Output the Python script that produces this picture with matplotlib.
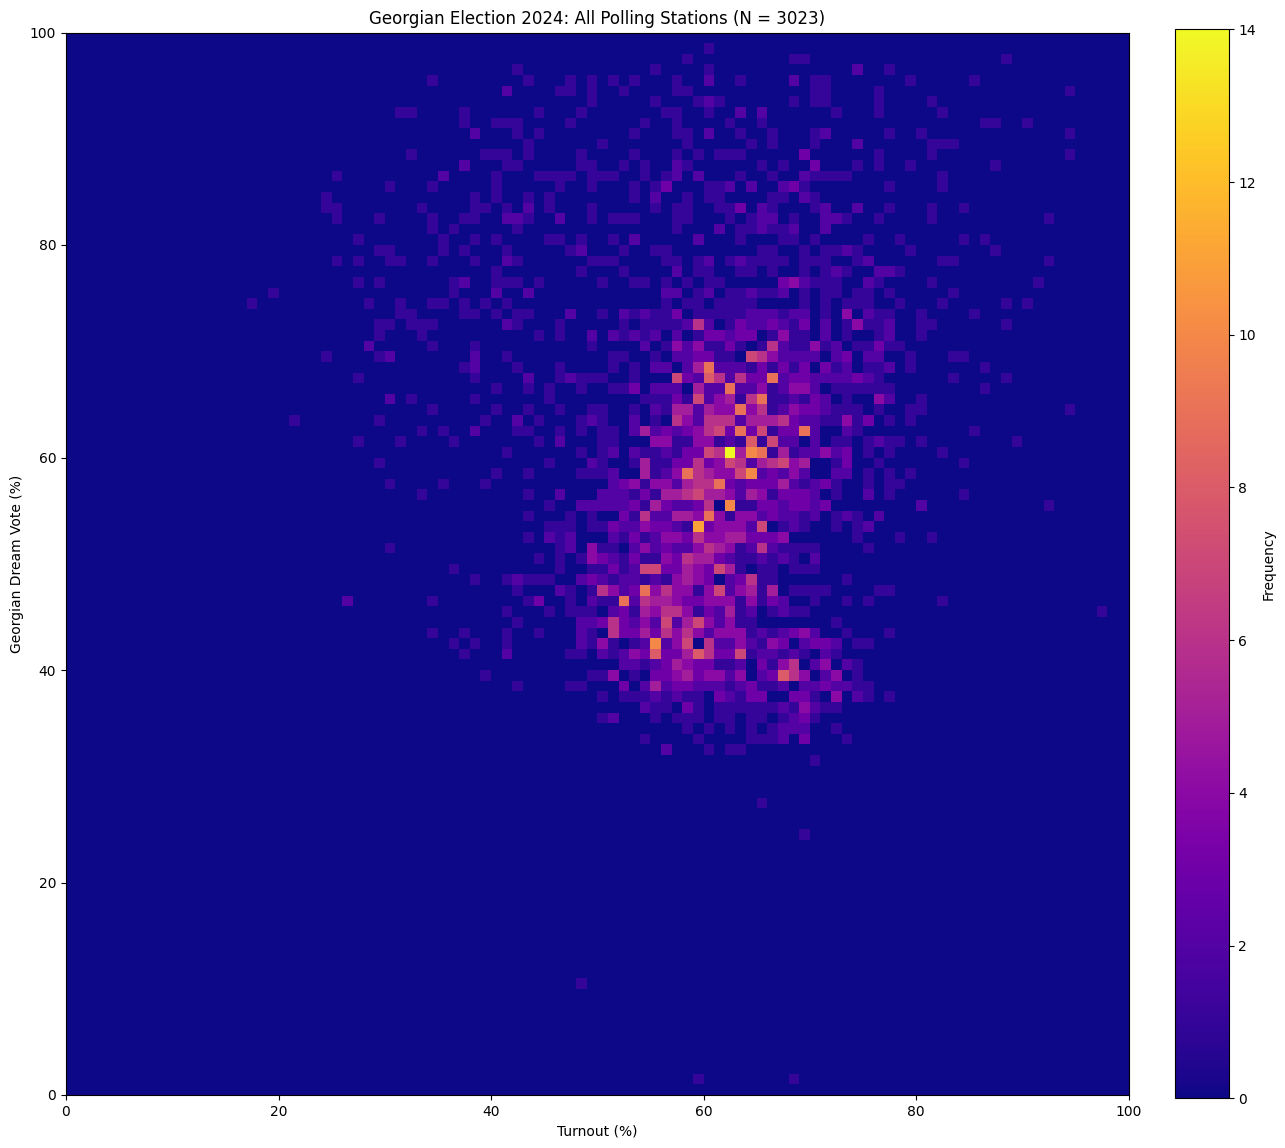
import numpy as np
import matplotlib
matplotlib.use("Agg")
import matplotlib.pyplot as plt

# stations per bin, {vote bin: {turnout bin: count}}
votes_90s = {
    98: {60:1},
    97: {58:1, 68:1, 69:1, 88:1},
    96: {42:1, 55:1, 60:1, 74:2, 77:1},
    95: {34:1, 43:1, 47:1, 49:1, 51:1, 53:1, 57:1, 60:2, 63:1, 68:2, 70:1, 71:1, 79:1, 85:1},
    94: {41:2, 46:1, 47:1, 49:1, 52:1, 57:1, 58:1, 70:1, 71:1, 76:1, 94:1},
    93: {49:1, 55:1, 59:1, 60:2, 61:1, 68:1, 70:1, 71:1, 76:1, 81:1},
    92: {31:1, 32:1, 37:1, 44:1, 48:1, 56:1, 57:1, 60:1, 63:2, 65:2, 72:1, 76:1, 82:1},
    91: {37:1, 40:1, 41:1, 42:1, 47:1, 54:1, 57:1, 62:1, 65:1, 86:1, 87:1, 90:1},
    90: {38:2, 42:1, 44:1, 53:1, 57:1, 58:1, 60:2, 63:1, 66:1, 70:1, 71:2, 77:1, 80:1, 94:1},
}
votes_80s = {
    89: {43:1, 50:1, 58:1, 64:1, 66:1, 70:1, 74:2, 81:1, 82:1, 83:1},
    88: {32:1, 39:1, 40:1, 41:1, 43:1, 48:1, 53:1, 57:1, 59:1, 61:1, 62:1, 63:1, 69:3, 76:1, 81:1, 94:1},
    87: {37:2, 41:1, 42:1, 48:1, 49:1, 52:1, 54:1, 57:2, 58:1, 65:1, 67:1, 70:3, 74:1, 76:1, 79:1, 87:1},
    86: {25:1, 35:2, 40:1, 44:1, 45:1, 46:1, 47:1, 49:1, 50:1, 51:1, 54:1, 56:1, 57:2, 59:2, 63:1, 66:1, 69:2, 70:1, 71:1, 72:1, 73:1, 82:1},
    85: {30:1, 34:1, 40:1, 46:1, 49:1, 53:1, 55:1, 56:3, 60:1, 61:1, 62:2, 64:2, 67:2, 68:3, 69:1, 77:1, 82:1},
    84: {24:1, 38:1, 40:1, 43:1, 45:1, 53:1, 55:2, 58:1, 60:1, 61:1, 66:1, 67:1, 69:2, 70:1},
    83: {24:1, 25:1, 33:1, 38:1, 39:1, 41:1, 43:2, 45:1, 49:1, 55:1, 57:1, 58:1, 61:1, 62:1, 63:3, 65:2, 66:1, 70:1, 71:2, 74:2, 77:1, 81:1, 84:1},
    82: {25:1, 29:1, 34:1, 37:1, 38:1, 41:2, 42:2, 43:1, 46:2, 49:1, 51:1, 52:1, 53:1, 57:1, 58:1, 62:1, 64:1, 65:2, 66:2, 68:1, 71:2, 72:2, 73:1, 76:1, 81:1, 92:1},
    81: {34:1, 36:1, 42:1, 57:1, 61:2, 63:1, 64:1, 65:2, 66:1, 67:1, 68:2, 71:2},
    80: {27:1, 35:1, 38:1, 40:1, 45:1, 46:1, 48:1, 51:1, 53:2, 59:2, 63:1, 67:1, 68:1, 70:1, 75:1, 78:1, 84:1, 86:1},
}
votes_70s = {
    79: {29:1, 30:1, 35:1, 37:1, 41:1, 47:1, 48:2, 52:1, 55:1, 56:1, 65:1, 66:1, 69:1, 71:1, 72:1, 73:2, 74:1, 79:1, 87:1},
    78: {25:1, 27:1, 30:1, 31:1, 34:1, 38:1, 41:2, 42:1, 49:1, 50:1, 51:1, 56:1, 57:1, 59:1, 60:2, 62:1, 63:2, 64:1, 65:1, 66:1, 67:1, 69:1, 70:1, 71:1, 74:1, 75:2, 82:1, 83:1, 92:1},
    77: {40:1, 48:1, 52:1, 57:2, 59:1, 60:1, 63:1, 64:1, 66:1, 69:1, 71:1, 72:2, 73:1, 76:2, 77:2, 78:1},
    76: {27:1, 29:1, 36:1, 37:2, 40:1, 41:1, 42:1, 44:1, 50:1, 53:1, 54:1, 56:1, 58:1, 60:1, 61:1, 67:3, 68:4, 69:2, 70:1, 71:1, 72:1, 75:2, 76:1, 81:1, 91:1},
    75: {19:1, 36:1, 40:2, 43:2, 56:2, 57:2, 59:1, 60:2, 62:1, 63:1, 64:2, 65:1, 66:1, 67:2, 69:1, 71:1, 72:1, 74:1, 75:1, 77:1, 83:1},
    74: {17:1, 28:1, 31:1, 34:1, 35:1, 37:1, 39:1, 41:1, 56:1, 58:1, 59:1, 61:1, 62:1, 63:1, 64:1, 69:1, 71:1, 73:1, 74:1, 75:1, 78:1, 82:1, 88:1, 90:1},
    73: {31:1, 32:1, 37:1, 38:1, 40:1, 42:1, 43:1, 47:2, 50:1, 52:2, 53:1, 54:2, 55:1, 56:1, 57:3, 59:1, 60:1, 61:1, 62:1, 63:1, 64:2, 65:2, 66:2, 67:1, 68:2, 69:2, 71:1, 73:4, 75:2, 76:1, 77:1, 80:1, 85:1},
    72: {29:1, 30:1, 32:1, 33:1, 34:1, 41:2, 42:1, 46:1, 52:1, 54:1, 55:1, 56:1, 57:1, 58:2, 59:6, 60:2, 62:1, 63:3, 64:2, 65:2, 66:3, 67:2, 68:1, 69:3, 71:2, 73:1, 74:4, 75:1, 76:1, 77:2, 80:1, 81:1, 88:1},
    71: {29:1, 33:1, 44:1, 46:1, 49:2, 51:2, 52:1, 53:2, 54:1, 55:2, 57:2, 59:1, 60:3, 61:3, 62:2, 63:3, 64:3, 66:1, 67:4, 68:1, 69:1, 71:2, 73:1, 76:1, 77:2, 80:1},
    70: {28:2, 34:1, 38:1, 49:1, 54:2, 56:1, 57:4, 58:2, 59:4, 60:1, 61:1, 62:3, 63:1, 65:1, 66:6, 67:2, 68:1, 69:1, 70:4, 71:1, 72:2, 74:1, 75:1, 76:3, 77:1, 78:1},
}
votes_60s = {
    69: {24:1, 29:1, 30:2, 38:2, 41:1, 51:1, 52:1, 55:1, 57:2, 58:2, 59:3, 60:3, 61:1, 62:1, 64:7, 65:6, 66:4, 67:2, 68:2, 69:2, 70:2, 72:2, 73:3, 75:2, 76:2, 79:1, 83:1, 84:1},
    68: {37:1, 38:2, 42:1, 46:1, 51:1, 53:1, 55:2, 56:2, 58:2, 59:5, 60:9, 61:2, 62:2, 63:2, 64:1, 65:3, 66:1, 67:3, 68:1, 69:3, 71:3, 72:1, 73:2, 75:1, 76:1, 77:2, 79:1, 86:1},
    67: {27:1, 38:1, 43:2, 46:1, 47:2, 48:1, 49:1, 50:1, 53:1, 57:7, 58:3, 59:2, 60:8, 61:6, 62:2, 63:6, 64:3, 65:3, 66:9, 67:2, 68:3, 69:3, 70:2, 71:2, 72:2, 73:2, 74:3, 75:2, 76:1, 83:1, 88:1},
    66: {40:1, 43:1, 45:1, 48:1, 51:1, 52:1, 53:3, 55:2, 56:2, 57:2, 59:5, 60:2, 61:2, 62:9, 63:2, 64:2, 65:4, 66:1, 67:2, 68:4, 69:4, 70:2, 72:1, 73:1, 74:1, 75:1, 76:1, 77:1, 86:1},
    65: {30:2, 32:1, 38:1, 45:1, 54:1, 55:1, 56:1, 57:3, 58:1, 59:7, 60:2, 61:4, 62:5, 63:1, 64:6, 65:9, 66:1, 67:1, 68:2, 69:1, 70:3, 71:2, 73:1, 76:4, 77:2, 80:1},
    64: {34:1, 40:1, 43:1, 46:1, 49:1, 50:1, 53:1, 55:2, 56:1, 57:5, 58:5, 59:2, 60:5, 61:4, 62:4, 63:9, 64:4, 65:6, 66:1, 67:2, 68:4, 69:3, 70:3, 71:2, 72:1, 73:1, 74:1, 76:1, 79:1, 80:1, 94:1},
    63: {21:1, 29:1, 39:1, 42:2, 44:1, 48:1, 49:2, 50:1, 53:2, 55:1, 57:6, 58:4, 59:2, 60:6, 61:6, 62:6, 63:2, 64:5, 65:5, 66:5, 67:6, 68:3, 69:2, 70:2, 71:1, 72:1, 73:4, 74:1, 75:3, 77:1, 79:1},
    62: {33:1, 35:1, 38:2, 42:1, 43:1, 46:1, 48:1, 50:1, 51:1, 53:2, 54:5, 55:2, 56:3, 57:2, 58:3, 59:4, 60:6, 61:7, 62:3, 63:9, 64:3, 65:7, 66:1, 67:3, 68:3, 69:9, 70:2, 73:2, 74:1, 85:1},
    61: {27:1, 31:1, 36:1, 44:1, 46:2, 50:1, 51:1, 55:4, 56:4, 57:1, 58:1, 59:4, 60:4, 61:1, 62:2, 63:1, 64:8, 65:1, 66:7, 67:2, 68:2, 70:2, 72:1, 73:1, 75:1, 76:2, 77:1, 78:1, 80:1, 89:1},
    60: {41:1, 48:1, 50:1, 51:2, 53:2, 54:1, 55:1, 56:2, 57:1, 58:3, 59:3, 60:7, 61:6, 62:14, 63:5, 64:10, 65:9, 66:1, 67:5, 68:1, 69:2, 70:2, 71:4, 72:2, 73:3, 75:1, 77:1, 82:1},
}
votes_50s = {
    59: {29:1, 45:1, 49:2, 50:1, 53:1, 54:5, 55:1, 56:1, 57:3, 58:3, 59:6, 60:3, 61:4, 62:7, 63:6, 64:2, 65:5, 66:6, 67:7, 68:4, 69:5, 72:1, 73:3, 76:1, 84:1},
    58: {40:1, 43:1, 48:1, 49:1, 50:1, 51:2, 54:5, 55:1, 56:2, 57:4, 58:9, 59:6, 60:5, 61:4, 62:4, 63:7, 64:10, 65:2, 66:3, 67:2, 68:4, 69:2, 72:2, 73:2, 75:1, 77:1, 79:1},
    57: {30:1, 35:1, 39:1, 51:2, 52:3, 53:4, 54:1, 55:4, 56:4, 57:2, 58:5, 59:6, 60:6, 61:9, 62:3, 63:2, 64:3, 65:3, 66:3, 67:5, 68:2, 69:1, 70:2, 71:3, 72:1, 75:1, 77:1, 78:1},
    56: {33:1, 43:1, 46:2, 50:2, 51:2, 52:2, 53:1, 54:3, 55:1, 56:5, 57:5, 58:6, 59:7, 60:5, 61:5, 62:4, 63:2, 64:5, 65:4, 66:1, 67:3, 68:3, 69:3, 70:2, 72:1, 75:2, 77:1, 84:1},
    55: {45:1, 48:2, 49:2, 50:2, 51:2, 52:2, 53:3, 54:1, 55:5, 56:3, 57:2, 58:2, 59:3, 60:6, 62:10, 63:1, 64:1, 65:3, 66:3, 67:2, 68:3, 69:3, 70:2, 71:3, 80:2, 92:1},
    54: {43:1, 47:1, 49:1, 52:3, 53:1, 54:6, 55:2, 56:2, 57:5, 58:5, 59:4, 60:9, 61:4, 62:1, 63:4, 64:4, 65:2, 66:3, 67:2, 68:2, 69:1, 70:2, 72:1, 73:2, 74:1, 76:2},
    53: {45:1, 46:1, 47:1, 49:1, 50:1, 51:3, 52:2, 53:2, 54:4, 55:3, 56:3, 57:2, 58:1, 59:11, 60:3, 61:4, 62:4, 63:4, 64:2, 65:7, 67:1, 68:2, 69:1, 72:1, 74:1, 75:2},
    52: {43:1, 45:2, 46:1, 47:2, 51:2, 52:1, 53:3, 54:1, 55:2, 56:4, 57:4, 58:3, 59:6, 60:4, 61:4, 62:5, 63:5, 64:3, 65:3, 66:3, 67:4, 74:1, 78:1, 81:1},
    51: {30:1, 46:1, 47:2, 49:4, 50:1, 51:1, 53:2, 54:4, 55:2, 56:3, 57:2, 58:2, 59:4, 60:6, 61:5, 62:4, 63:1, 64:2, 65:6, 66:2, 67:1, 68:1, 69:1, 70:1, 75:1},
    50: {44:1, 46:1, 48:1, 49:4, 50:3, 51:2, 52:1, 53:3, 54:1, 55:1, 56:4, 57:3, 58:6, 59:5, 60:5, 61:3, 62:2, 63:1, 64:1, 65:2, 66:1, 67:2, 68:1, 70:2},
}
votes_40s = {
    49: {36:1, 46:1, 49:1, 50:1, 51:3, 52:1, 53:2, 54:7, 55:7, 56:3, 57:3, 58:5, 59:4, 60:3, 61:7, 62:5, 63:1, 65:1, 66:1, 68:1, 69:1, 70:1},
    48: {38:1, 41:1, 42:2, 43:1, 44:1, 45:1, 48:2, 49:3, 50:2, 51:1, 52:2, 53:2, 54:1, 55:2, 56:1, 57:4, 58:5, 59:4, 60:3, 62:2, 63:3, 64:6, 65:1, 66:1, 73:1},
    47: {42:1, 46:2, 47:1, 49:1, 50:6, 51:4, 52:2, 53:3, 54:9, 55:4, 56:6, 57:4, 58:4, 59:1, 60:4, 61:7, 62:2, 63:4, 64:5, 65:1, 66:5, 68:1, 69:1, 70:1, 71:1, 76:1, 77:1},
    46: {26:2, 34:1, 43:1, 44:3, 47:1, 49:2, 50:1, 51:1, 52:9, 53:2, 54:6, 55:5, 56:5, 57:4, 58:3, 59:3, 60:4, 61:4, 62:4, 63:1, 64:4, 65:1, 66:3, 67:2, 70:1, 73:1, 75:1, 82:1},
    45: {41:1, 45:1, 47:1, 48:1, 49:1, 51:2, 52:3, 53:1, 54:5, 55:4, 56:6, 57:6, 58:4, 59:1, 60:3, 61:2, 62:5, 63:1, 64:2, 66:1, 67:2, 68:1, 69:1, 97:1},
    44: {42:1, 48:2, 49:2, 50:3, 51:6, 52:3, 53:2, 54:4, 55:2, 56:7, 57:2, 58:5, 59:7, 60:4, 61:2, 62:4, 63:1, 64:1, 72:1},
    43: {34:1, 37:1, 41:1, 44:1, 48:2, 49:1, 51:6, 52:3, 53:3, 54:5, 55:3, 56:6, 57:4, 58:6, 59:4, 60:2, 61:4, 62:4, 63:4, 64:1, 65:2, 66:1, 67:2, 68:3, 69:4, 70:2, 73:1, 77:1},
    42: {36:1, 38:1, 41:1, 48:2, 49:1, 50:4, 51:1, 53:1, 54:2, 55:10, 56:2, 57:4, 58:7, 60:6, 61:2, 62:2, 63:4, 64:2, 65:1, 66:4, 67:3, 69:2, 70:3, 71:3, 72:2, 74:1, 75:1},
    41: {37:1, 41:2, 47:1, 48:1, 50:2, 51:1, 52:2, 53:4, 54:3, 55:8, 56:3, 57:3, 58:5, 59:8, 60:6, 61:3, 62:3, 63:7, 64:1, 65:2, 66:2, 67:1, 68:2, 69:1, 71:2, 72:1},
    40: {52:2, 53:2, 54:1, 55:2, 56:3, 57:5, 58:4, 59:3, 60:3, 61:1, 62:1, 63:2, 65:3, 66:1, 67:4, 68:6, 70:2, 71:4, 73:2, 74:1},
}
votes_30s = {
    39: {39:1, 49:1, 50:1, 51:4, 53:1, 55:3, 56:3, 57:4, 58:5, 59:3, 60:4, 61:4, 62:2, 63:4, 65:2, 66:3, 67:8, 68:6, 69:4, 71:2, 72:4, 74:1},
    38: {42:1, 47:1, 48:1, 52:3, 54:2, 55:5, 56:2, 57:3, 58:3, 59:2, 60:2, 61:2, 62:1, 63:2, 64:3, 65:1, 66:1, 67:2, 69:2, 70:2, 71:3, 72:2, 73:2, 74:1, 75:1},
    37: {50:1, 52:1, 53:1, 54:1, 55:2, 56:1, 57:2, 58:1, 59:1, 61:3, 62:2, 63:1, 64:3, 65:3, 68:3, 69:3, 70:1, 72:4, 74:2, 75:1, 77:1},
    36: {54:2, 55:1, 56:1, 58:3, 59:1, 61:1, 62:1, 63:1, 64:1, 65:1, 66:1, 67:2, 68:1, 69:4, 70:2, 71:1, 72:1},
    35: {50:1, 51:2, 55:1, 57:1, 58:1, 59:1, 61:1, 62:1, 64:1, 65:1, 67:1, 68:2, 69:3, 70:1},
    34: {58:1, 60:1, 62:1, 64:1, 66:1, 67:2, 68:2, 69:2, 72:1},
    33: {54:1, 59:1, 64:1, 65:1, 66:1, 67:2, 69:3, 73:1},
    32: {56:2, 60:1, 62:1, 63:1},
    31: {70:1},
}
votes_low = {
    27: {65:1},
    24: {69:1},
    10: {48:1},
    1: {59:1, 68:1},
}

turnout, vote, stations = [], [], []
for band in [votes_90s, votes_80s, votes_70s, votes_60s, votes_50s, votes_40s, votes_30s, votes_low]:
    for v, row in band.items():
        for t, n in row.items():
            turnout.append(t + 0.5)
            vote.append(v + 0.5)
            stations.append(n)

W, H = 1285, 1148
fig = plt.figure(figsize=(W / 100, H / 100), dpi=100)
ax = fig.add_axes([66 / W, 1 - 1095 / H, 1062.5 / W, 1062.5 / H])
cax = fig.add_axes([1175.3 / W, 1 - 1098.3 / H, 53.4 / W, 1069 / H])

_, _, _, mesh = ax.hist2d(
    turnout, vote, bins=100, range=[[0, 100], [0, 100]], weights=stations,
    cmap="plasma", vmin=0, vmax=14,
)
ax.set_xlabel("Turnout (%)")
ax.set_ylabel("Georgian Dream Vote (%)")
ax.set_title("Georgian Election 2024: All Polling Stations (N = 3023)")

cbar = fig.colorbar(mesh, cax=cax)
cbar.set_label("Frequency")

plt.savefig("out.png", dpi=100)
plt.close()
